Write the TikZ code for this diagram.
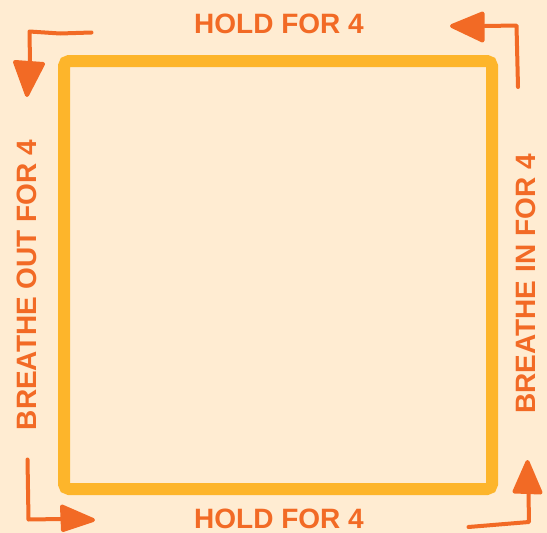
\documentclass[tikz,border=0pt]{standalone}
\usepackage{fontspec}
\setmainfont{Liberation Sans}
\definecolor{bg}{HTML}{FFECD2}
\definecolor{boxc}{HTML}{FDB52B}
\definecolor{arr}{HTML}{F26A25}
\begin{document}
\begin{tikzpicture}[x=1pt,y=-1pt,
  lbl/.style={text=arr,font=\fontsize{28}{30}\selectfont\bfseries,inner sep=0pt,anchor=center},
  stem/.style={draw=arr,line width=4pt,line cap=round,line join=round},
  head/.style={draw=arr,fill=arr,line width=4pt,line join=round}]
\fill[bg] (0,0) rectangle (547,533);
\useasboundingbox (0,0) rectangle (547,533);
% square
\draw[boxc,line width=12pt,rounded corners=5pt] (64,61) rectangle (492,489);
% labels
\node[lbl] (top) at (279,24) {HOLD FOR 4};
\node[lbl] (bot) at (279,519) {HOLD FOR 4};
\node[lbl,rotate=90] (left) at (27,285) {BREATHE OUT FOR 4};
\node[lbl,rotate=90] (right) at (526,284) {BREATHE IN FOR 4};
% top-left arrow
\draw[stem] (91.5,32.5) -- (60,33.5) -- (29.5,31.5) -- (30,63);
\draw[head] (15,62) -- (43,64) -- (27,95) -- cycle;
% top-right arrow
\draw[stem] (518,87) -- (516.5,25.5) -- (485,26);
\draw[head] (482.5,13.5) -- (482.5,40.5) -- (452,26) -- cycle;
% bottom-left arrow
\draw[stem] (27.5,459.5) -- (28.5,519.5) -- (62,519);
\draw[head] (62,506.5) -- (63,530) -- (93,520) -- cycle;
% bottom-right arrow
\draw[stem] (468.5,527) -- (529,522) -- (528.5,493);
\draw[head] (514.5,491.5) -- (540.5,492.5) -- (527.5,462) -- cycle;
\end{tikzpicture}
\end{document}
